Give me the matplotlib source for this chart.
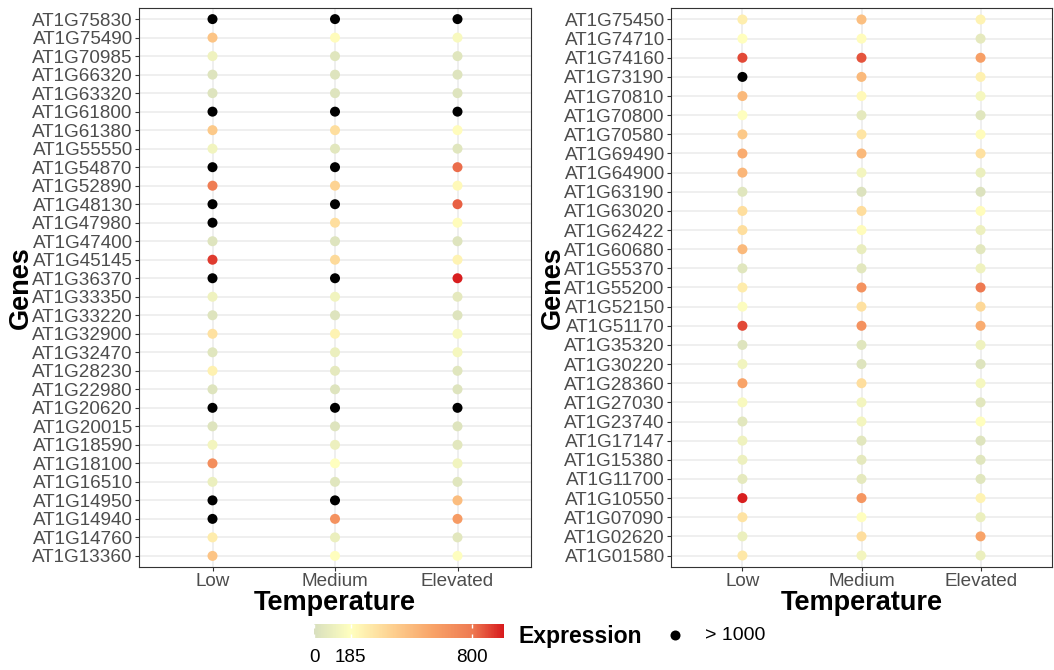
import numpy as np
import matplotlib
matplotlib.use("Agg")
import matplotlib.pyplot as plt
from matplotlib.colors import LinearSegmentedColormap, Normalize
from matplotlib.cm import ScalarMappable

plt.rcParams["font.family"] = ["Liberation Sans", "DejaVu Sans"]

# %% Data (expression values; > 1000 shown as black)
temps = ["Low", "Medium", "Elevated"]

genes_left = ["AT1G75830", "AT1G75490", "AT1G70985", "AT1G66320", "AT1G63320",
              "AT1G61800", "AT1G61380", "AT1G55550", "AT1G54870", "AT1G52890",
              "AT1G48130", "AT1G47980", "AT1G47400", "AT1G45145", "AT1G36370",
              "AT1G33350", "AT1G33220", "AT1G32900", "AT1G32470", "AT1G28230",
              "AT1G22980", "AT1G20620", "AT1G20015", "AT1G18590", "AT1G18100",
              "AT1G16510", "AT1G14950", "AT1G14940", "AT1G14760", "AT1G13360"]
low_left = [1500, 450, 110, 30, 30, 1500, 430, 120, 1500, 780,
            1500, 1500, 30, 900, 1500, 110, 30, 320, 40, 250,
            30, 1500, 30, 130, 700, 90, 1500, 1500, 270, 450]
med_left = [1500, 200, 40, 30, 30, 1500, 330, 50, 1500, 380,
            1500, 330, 30, 350, 1500, 120, 30, 240, 90, 60,
            30, 1500, 30, 100, 185, 40, 1500, 680, 90, 190]
elev_left = [1500, 150, 40, 30, 30, 1500, 200, 40, 820, 210,
             840, 200, 30, 240, 950, 60, 30, 150, 140, 40,
             30, 1500, 30, 50, 120, 40, 480, 640, 50, 180]

genes_right = ["AT1G75450", "AT1G74710", "AT1G74160", "AT1G73190", "AT1G70810",
               "AT1G70800", "AT1G70580", "AT1G69490", "AT1G64900", "AT1G63190",
               "AT1G63020", "AT1G62422", "AT1G60680", "AT1G55370", "AT1G55200",
               "AT1G52150", "AT1G51170", "AT1G35320", "AT1G30220", "AT1G28360",
               "AT1G27030", "AT1G23740", "AT1G17147", "AT1G15380", "AT1G11700",
               "AT1G10550", "AT1G07090", "AT1G02620", "AT1G01580"]
low_right = [260, 190, 880, 1500, 500, 180, 430, 560, 510, 40,
             330, 330, 500, 40, 270, 170, 880, 30, 120, 600,
             150, 50, 110, 100, 60, 950, 310, 90, 290]
med_right = [470, 200, 860, 500, 210, 60, 300, 500, 130, 20,
             340, 200, 80, 50, 680, 320, 680, 40, 30, 330,
             130, 130, 50, 60, 60, 660, 190, 330, 130]
elev_right = [240, 60, 620, 250, 140, 40, 200, 320, 90, 20,
              200, 100, 50, 110, 800, 360, 560, 110, 30, 140,
              50, 190, 30, 40, 40, 240, 90, 600, 90]

cbar_ticks = [0, 185, 800]
VMAX = 960
CUTOFF = 1000

# %% Colour scale
stops = [(0, "#d8dfbe"), (185, "#ffffbf"), (400, "#fdcf8f"),
         (600, "#f8a368"), (800, "#ee7a52"), (VMAX, "#d7191c")]
cmap = LinearSegmentedColormap.from_list(
    "expr", [(v / VMAX, c) for v, c in stops])
norm = Normalize(0, VMAX)

W, H = 1054, 670
fig = plt.figure(figsize=(W / 100, H / 100), dpi=100)

TICK_FS = 13.6
TITLE_FS = 19.5
GRAY = "#4d4d4d"


def panel(rect, genes, low, med, elev):
    ax = fig.add_axes(rect)
    ax.set_axisbelow(True)
    for t, vals in zip(temps, [low, med, elev]):
        vals = np.array(vals)
        cols = cmap(norm(np.clip(vals, 0, VMAX)))
        cols[vals > CUTOFF] = (0, 0, 0, 1)
        ax.scatter([t] * len(genes), genes, c=cols, s=52, linewidths=0, zorder=3)
    ax.set_xlim(-0.6, len(temps) - 0.4)
    ax.set_ylim(len(genes) - 0.4, -0.6)
    ax.grid(True, color="#ebebeb", lw=1.1)
    for s in ax.spines.values():
        s.set_color("#333333")
        s.set_linewidth(0.8)
    ax.tick_params(axis="both", colors="#333333", labelcolor=GRAY,
                   labelsize=TICK_FS, length=3, width=0.8, pad=1.5)
    ax.set_xlabel("Temperature", fontsize=TITLE_FS, fontweight="bold", labelpad=0)
    ax.set_ylabel("Genes", fontsize=TITLE_FS, fontweight="bold", labelpad=-1)
    return ax


def px_rect(x0, x1, y0, y1):
    return [x0 / W, (H - y1) / H, (x1 - x0) / W, (y1 - y0) / H]


panel(px_rect(139, 531, 8, 567), genes_left, low_left, med_left, elev_left)
panel(px_rect(671, 1052, 8, 567), genes_right, low_right, med_right, elev_right)

# %% Legend: colourbar + black point key
cax = fig.add_axes(px_rect(314, 504, 624, 638))
cb = fig.colorbar(ScalarMappable(norm=norm, cmap=cmap), cax=cax,
                  orientation="horizontal", ticks=cbar_ticks)
cb.outline.set_visible(False)
cax.tick_params(direction="in", color="white", length=3, width=1,
                top=True, bottom=True, labelsize=TICK_FS, labelcolor="black", pad=8)
cax.set_xticklabels([str(t) for t in cbar_ticks])

fig.text(519 / W, (H - 637) / H, "Expression", fontsize=16.6,
         fontweight="bold", ha="left", va="center")
kax = fig.add_axes(px_rect(665, 685, 625, 645))
kax.scatter([0], [0], color="black", s=52, linewidths=0)
kax.set_xlim(-1, 1)
kax.set_ylim(-1, 1)
kax.axis("off")
fig.text(705 / W, (H - 636) / H, "> 1000", fontsize=14,
         ha="left", va="center")

fig.savefig("out.png", dpi=100)
